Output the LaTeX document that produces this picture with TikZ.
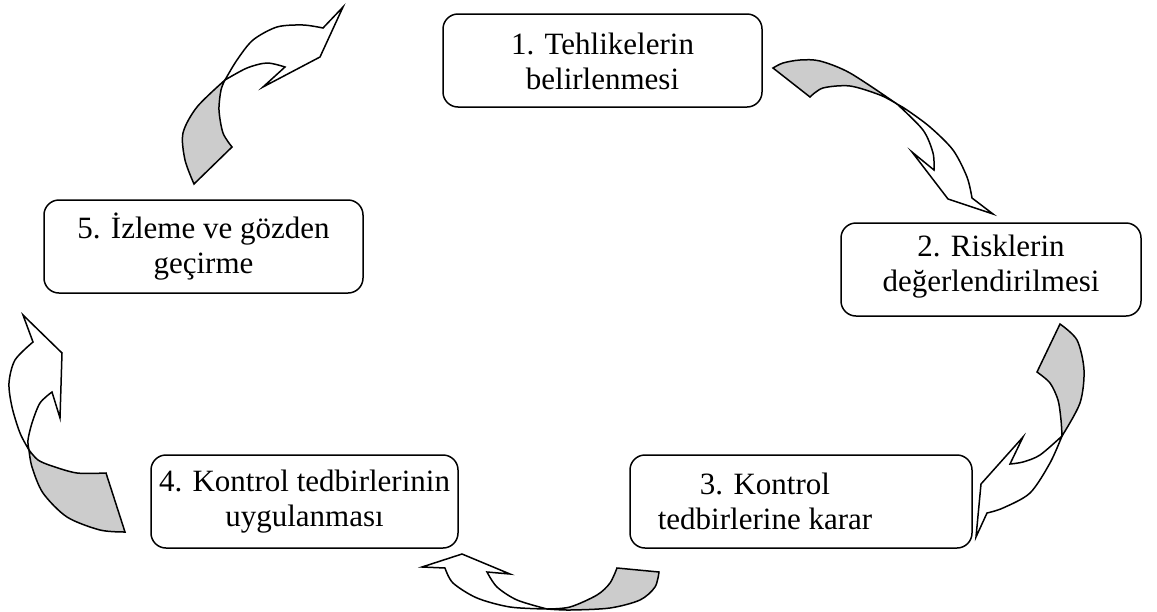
\documentclass[tikz,border=0pt]{standalone}
\usepackage{fontspec}
\setmainfont{Liberation Serif}
\begin{document}
\begin{tikzpicture}[x=1pt,y=-1pt,
  stagebox/.style={draw=black, line width=1.5pt, rounded corners=15pt, fill=white,
    inner sep=0pt},
  stagetext/.style={align=center, inner sep=0pt,
    font=\fontsize{31}{35}\selectfont},
  backface/.style={draw=black, line width=1.5pt, fill=black!20, line join=miter},
  frontface/.style={draw=black, line width=1.5pt, fill=white, line join=miter}]
\useasboundingbox (0,0) rectangle (1157,611);

% stage boxes
\node[stagebox, minimum width=319pt, minimum height=93pt] (s1) at (602.5,60.5) {};
\node[stagebox, minimum width=300pt, minimum height=93pt] (s2) at (991,269.5) {};
\node[stagebox, minimum width=342pt, minimum height=93pt] (s3) at (801,501.5) {};
\node[stagebox, minimum width=307pt, minimum height=93pt] (s4) at (304.5,501.5) {};
\node[stagebox, minimum width=319pt, minimum height=93pt] (s5) at (203.5,246.5) {};

\node[stagetext] (t1) at ([yshift=-1pt]s1.center) {1. Tehlikelerin\\belirlenmesi};
\node[stagetext] (t2) at ([yshift=3pt]s2.center) {2. Risklerin\\değerlendirilmesi};
\node[stagetext] (t3) at ([xshift=-36pt]s3.center) {3. Kontrol\\tedbirlerine karar};
\node[stagetext] (t4) at (s4.center) {4. Kontrol tedbirlerinin\\uygulanması};
\node[stagetext] (t5) at (s5.center) {5. İzleme ve gözden\\geçirme};

% curved arrow 1 -> 2
\filldraw[backface] (773,68) -- plot[smooth] coordinates {(810,97) (823,88) (850,86) (880,95) (897,104)}
  -- plot[smooth] coordinates {(897,104) (850,73) (820,61) (800,60) (783,63) (773,68)} -- cycle;
\filldraw[frontface] plot[smooth] coordinates {(897,104) (923,130) (933,153) (934,170)}
  -- (912,152) -- (948,199) -- (993,214) -- (972,198)
  -- plot[smooth] coordinates {(972,198) (967,177) (953,150) (930,127) (907,110) (897,104)} -- cycle;

% curved arrow 2 -> 3
\filldraw[backface] (1060,324) -- plot[smooth] coordinates {(1037,372) (1050,383) (1058,400) (1061,420) (1062,436)}
  -- plot[smooth] coordinates {(1062,436) (1080,403) (1084,370) (1077,340) (1060,324)} -- cycle;
\filldraw[frontface] plot[smooth] coordinates {(1062,436) (1040,455) (1023,462) (1010,464)}
  -- (1023,437) -- (981,484) -- (976,537) -- (987,513)
  -- plot[smooth] coordinates {(987,513) (1003,508) (1030,493) (1050,463) (1062,436)} -- cycle;

% curved arrow 3 -> 4
\filldraw[backface] (617,568) -- plot[smooth] coordinates {(659,572) (655,587) (640,600) (610,608) (570,610) (547,609)}
  -- plot[smooth] coordinates {(547,609) (570,607) (597,595) (610,583) (617,568)} -- cycle;
\filldraw[frontface] plot[smooth] coordinates {(547,609) (517,600) (497,587) (487,572)}
  -- (510,574) -- (462,554) -- (422,567) -- (445,568)
  -- plot[smooth] coordinates {(445,568) (453,583) (477,598) (510,607) (547,609)} -- cycle;

% curved arrow 4 -> 5
\filldraw[backface] (106,473) -- plot[smooth] coordinates {(125,532) (100,530) (67,517) (43,493) (32,467) (29,450)}
  -- plot[smooth] coordinates {(29,450) (38,460) (52,466) (77,473) (106,473)} -- cycle;
\filldraw[frontface] plot[smooth] coordinates {(29,450) (20,433) (12,407) (9,383) (15,360) (33,342)}
  -- (23,315) -- (62,353) -- (60,418) -- (52,392)
  -- plot[smooth] coordinates {(52,392) (40,403) (32,423) (28,440) (29,450)} -- cycle;

% curved arrow 5 -> 1
\filldraw[backface] (194,184) -- plot[smooth] coordinates {(232,147) (223,133) (219,110) (221,90) (225,80)}
  -- plot[smooth] coordinates {(225,80) (197,107) (183,133) (185,160) (194,184)} -- cycle;
\filldraw[frontface] plot[smooth] coordinates {(225,80) (247,68) (267,63) (285,67)}
  -- (263,87) -- (320,57) -- (343,7) -- (323,28)
  -- plot[smooth] coordinates {(323,28) (303,25) (277,27) (253,40) (237,60) (225,80)} -- cycle;
\end{tikzpicture}
\end{document}
